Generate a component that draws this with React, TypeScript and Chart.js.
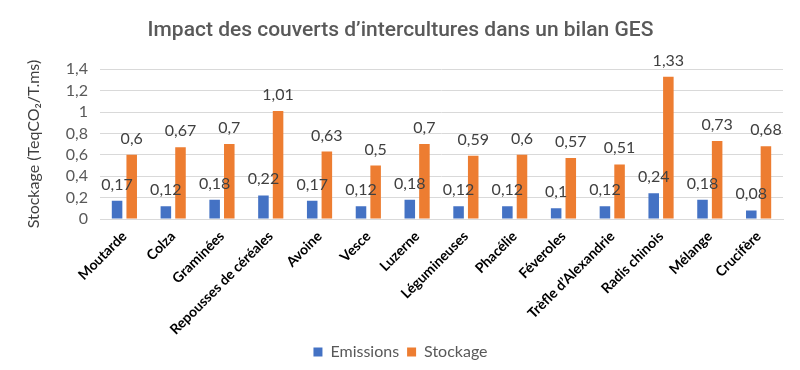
import React, { useEffect, useRef } from "react";
import { Chart, registerables } from "chart.js";

Chart.register(...registerables);

const categories = [
  "Moutarde",
  "Colza",
  "Graminées",
  "Repousses de céréales",
  "Avoine",
  "Vesce",
  "Luzerne",
  "Légumineuses",
  "Phacélie",
  "Féveroles",
  "Trèfle d’Alexandrie",
  "Radis chinois",
  "Mélange",
  "Crucifère",
];
const emissions = [0.17, 0.12, 0.18, 0.22, 0.17, 0.12, 0.18, 0.12, 0.12, 0.1, 0.12, 0.24, 0.18, 0.08];
const stockage = [0.6, 0.67, 0.7, 1.01, 0.63, 0.5, 0.7, 0.59, 0.6, 0.57, 0.51, 1.33, 0.73, 0.68];
const yTicksMax = 1.4;
const yStep = 0.2;

const fmt = (v: number) => v.toLocaleString("fr-FR");
const FONT = "Lato, 'Open Sans', sans-serif";

const labelPlugin = {
  id: "barLabels",
  afterDatasetsDraw(chart: any) {
    const ctx = chart.ctx;
    ctx.save();
    ctx.font = "16px Lato, 'Open Sans', sans-serif";
    ctx.fillStyle = "#404040";
    ctx.textAlign = "center";
    ctx.textBaseline = "alphabetic";
    chart.data.datasets.forEach((ds: any, i: number) => {
      const meta = chart.getDatasetMeta(i);
      meta.data.forEach((bar: any, j: number) => {
        ctx.fillText(fmt(ds.data[j]), bar.x, bar.y - 11);
      });
    });
    ctx.restore();
  },
};

export default function App() {
  const ref = useRef<HTMLCanvasElement>(null);
  useEffect(() => {
    document.body.style.margin = "0";
    const chart = new Chart(ref.current as HTMLCanvasElement, {
      type: "bar",
      data: {
        labels: categories,
        datasets: [
          { label: "Emissions", data: emissions, backgroundColor: "#4472C4" },
          { label: "Stockage", data: stockage, backgroundColor: "#ED7D31" },
        ],
      },
      options: {
        animation: false,
        responsive: false,
        devicePixelRatio: 1,
        layout: { padding: { left: 18, right: 17, top: 0, bottom: 0 } },
        datasets: { bar: { categoryPercentage: 0.6, barPercentage: 0.72 } } as any,
        plugins: {
          title: {
            display: true,
            text: "Impact des couverts d’intercultures dans un bilan GES",
            color: "#595959",
            font: { family: "Roboto", size: 21, weight: "500" as any, lineHeight: 1.2 },
            padding: { top: 18, bottom: 26 },
          },
          legend: {
            position: "bottom",
            labels: {
              boxWidth: 9,
              boxHeight: 9,
              color: "#595959",
              font: { family: FONT, size: 16 },
              padding: 8,
            },
          },
          tooltip: { enabled: false },
        },
        scales: {
          x: {
            grid: { display: false },
            border: { color: "#d9d9d9" },
            ticks: {
              color: "#000000",
              font: { family: FONT, size: 14, weight: "bold" as any },
              maxRotation: 45,
              minRotation: 45,
              autoSkip: false,
              padding: 1,
            },
            afterFit: (s: any) => {
              s.height = 117;
            },
          },
          y: {
            min: 0,
            max: yTicksMax,
            grid: { color: "#d9d9d9", drawTicks: false },
            border: { display: false },
            ticks: {
              stepSize: yStep,
              autoSkip: false,
              color: "#595959",
              font: { family: FONT, size: 16 },
              padding: 12,
              callback: (v: any) => fmt(Number(v)),
            },
            title: {
              display: true,
              text: "Stockage (TeqCO₂/T.ms)",
              color: "#404040",
              font: { family: FONT, size: 16 },
              padding: { top: 6, bottom: 0 },
            },
            afterFit: (s: any) => {
              s.width = 82;
            },
          },
        },
      },
      plugins: [labelPlugin],
    });
    return () => chart.destroy();
  }, []);
  return (
    <div style={{ position: "absolute", left: 0, top: 0, width: 800, height: 370 }}>
      <canvas ref={ref} width={800} height={370} />
    </div>
  );
}
